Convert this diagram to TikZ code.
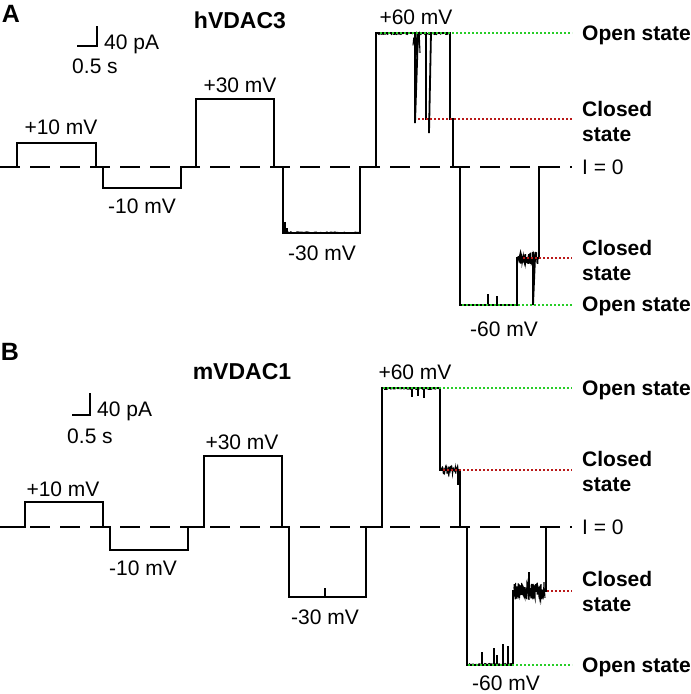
\documentclass[tikz,border=0pt]{standalone}
\usepackage{fontspec}
\setmainfont{Liberation Sans}
\definecolor{opengreen}{RGB}{40,205,40}
\definecolor{closedred}{RGB}{185,25,25}
\tikzset{
  trace/.style={line width=1.8pt, line join=miter},
  noisy/.style={line width=1.1pt},
  zeroline/.style={line width=2.4pt, dash pattern=on 20pt off 10pt},
  openline/.style={opengreen, line width=2pt, dash pattern=on 2pt off 2pt},
  closedline/.style={closedred, line width=2pt, dash pattern=on 2pt off 2pt},
  scalebar/.style={line width=1.4pt},
  mvlabel/.style={font=\fontsize{21}{25}\selectfont, inner sep=0pt},
  statelabel/.style={font=\bfseries\fontsize{21}{25}\selectfont, anchor=west, align=left, inner sep=0pt},
  titlelabel/.style={font=\bfseries\fontsize{23}{27}\selectfont, inner sep=0pt},
  panellabel/.style={font=\bfseries\fontsize{25}{29}\selectfont, inner sep=0pt}
}
\begin{document}
\begin{tikzpicture}[x=1pt, y=-1pt]
\useasboundingbox (0,0) rectangle (691,694);
\pgfmathsetseed{17}

% ---- panel A : hVDAC3 ----
\node[panellabel] (alet) at (11,14) {A};
\node[titlelabel] (atitle) at (240,20) {hVDAC3};
\draw[scalebar] (77,46) -- (97,46) -- (97,26);
\node[mvlabel, anchor=west] (apa) at (104,44) {40 pA};
\node[mvlabel] (asec) at (95,66) {0.5 s};

\draw[zeroline] (0,167) -- (572,167);
\draw[trace] (0,167) -- (17,167) -- (17,143) -- (96,143) -- (96,167) -- (103,167)
  -- (103,188) -- (181,188) -- (181,167) -- (196,167) -- (196,99) -- (274,99)
  -- (274,167) -- (283,167) -- (283,233) -- (360,233) -- (360,167) -- (376,167)
  -- (376,33) -- (415,33) -- (415,123) -- (418,33) -- (426,33) -- (426,119)
  -- (429,119) -- (429,133) -- (431,33) -- (450,33) -- (450,119) -- (453,119)
  -- (453,167) -- (460,167) -- (460,305) -- (517,305) -- (517,258) -- (533,258)
  -- (533,305) -- (535,258) -- (539,258) -- (539,167) -- (545,167);
\draw[noisy] plot[domain=378:450, samples=70] (\x,{33+1.5*abs(rand)});
\draw[noisy] plot[domain=413:420, samples=10] (\x,{33+25*abs(rand)});
\draw[noisy] plot[domain=518:538, samples=70] (\x,{258+6*rand});
\draw[noisy] (285,233) -- (285,222) (287,233) -- (287,228);
\draw[noisy] (488,305) -- (488,294) (497,305) -- (497,296);
\draw[noisy] plot[domain=283:360, samples=50] (\x,{233-1.2*abs(rand)});

\coordinate (aop1) at (380,33);
\coordinate (acl1) at (418,119);
\coordinate (acl2) at (523,258);
\coordinate (aop2) at (462,305);
\node[statelabel] (aopen1) at (582,35) {Open state};
\node[statelabel] (aclosed1) at (582,121) {Closed\\state};
\node[mvlabel, anchor=west] (azero) at (582,167) {I = 0};
\node[statelabel] (aclosed2) at (582,260) {Closed\\state};
\node[statelabel] (aopen2) at (582,306) {Open state};
\draw[openline] (aop1) -- ([xshift=-10pt]aopen1.west |- aop1);
\draw[closedline] (acl1) -- ([xshift=-10pt]aclosed1.west |- acl1);
\draw[closedline] (acl2) -- ([xshift=-10pt]aclosed2.west |- acl2);
\draw[openline] (aop2) -- ([xshift=-10pt]aopen2.west |- aop2);

\node[mvlabel] (ap10) at (61,127) {+10 mV};
\node[mvlabel] (am10) at (142,206) {-10 mV};
\node[mvlabel] (ap30) at (240,85) {+30 mV};
\node[mvlabel] (am30) at (322,253) {-30 mV};
\node[mvlabel] (ap60) at (416,17) {+60 mV};
\node[mvlabel] (am60) at (504,329) {-60 mV};

% ---- panel B : mVDAC1 ----
\node[panellabel] (blet) at (10,352) {B};
\node[titlelabel] (btitle) at (242,372) {mVDAC1};
\draw[scalebar] (72,415) -- (90,415) -- (90,393);
\node[mvlabel, anchor=west] (bpa) at (97,411) {40 pA};
\node[mvlabel] (bsec) at (90,436) {0.5 s};

\draw[zeroline] (0,527) -- (572,527);
\draw[trace] (0,527) -- (25,527) -- (25,502) -- (103,502) -- (103,527) -- (110,527)
  -- (110,550) -- (188,550) -- (188,527) -- (204,527) -- (204,456) -- (282,456)
  -- (282,527) -- (289,527) -- (289,597) -- (366,597) -- (366,527) -- (382,527)
  -- (382,388) -- (440,388) -- (440,470) -- (460,470) -- (460,527) -- (467,527)
  -- (467,665) -- (513,665) -- (513,591) -- (546,591) -- (546,527) -- (552,527);
\draw[noisy] plot[domain=384:440, samples=50] (\x,{388+1.5*abs(rand)});
\draw[noisy] (412,388) -- (412,397) (418,388) -- (418,396) (424,388) -- (424,398);
\draw[noisy] plot[domain=441:459, samples=40] (\x,{470+4*rand});
\draw[noisy] (458,470) -- (458,485);
\draw[noisy] plot[domain=514:545, samples=160] (\x,{591+9*rand});
\draw[noisy] (529,591) -- (529,572);
\draw[noisy] plot[domain=469:513, samples=40] (\x,{665-1.5*abs(rand)});
\draw[noisy] (482,665) -- (482,652) (494,665) -- (494,648) (497,665) -- (497,655)
  (503,665) -- (503,644) (508,665) -- (508,646);
\draw[noisy] (325,597) -- (325,588);

\coordinate (bop1) at (383,388);
\coordinate (bcl1) at (443,470);
\coordinate (bcl2) at (547,591);
\coordinate (bop2) at (468,665);
\node[statelabel] (bopen1) at (582,390) {Open state};
\node[statelabel] (bclosed1) at (582,471) {Closed\\state};
\node[mvlabel, anchor=west] (bzero) at (582,527) {I = 0};
\node[statelabel] (bclosed2) at (582,591) {Closed\\state};
\node[statelabel] (bopen2) at (582,667) {Open state};
\draw[openline] (bop1) -- ([xshift=-10pt]bopen1.west |- bop1);
\draw[closedline] (bcl1) -- ([xshift=-10pt]bclosed1.west |- bcl1);
\draw[closedline] (bcl2) -- ([xshift=-10pt]bclosed2.west |- bcl2);
\draw[openline] (bop2) -- ([xshift=-10pt]bopen2.west |- bop2);

\node[mvlabel] (bp10) at (63,489) {+10 mV};
\node[mvlabel] (bm10) at (143,568) {-10 mV};
\node[mvlabel] (bp30) at (242,442) {+30 mV};
\node[mvlabel] (bm30) at (325,617) {-30 mV};
\node[mvlabel] (bp60) at (415,372) {+60 mV};
\node[mvlabel] (bm60) at (506,683) {-60 mV};
\end{tikzpicture}
\end{document}
